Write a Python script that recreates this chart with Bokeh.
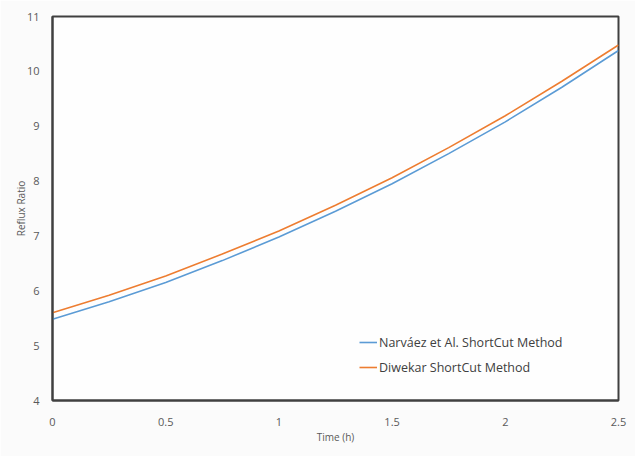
from bokeh.plotting import figure
from bokeh.models import Range1d, FixedTicker, Legend, LegendItem
from bokeh.embed import file_html
from bokeh.resources import INLINE

time_h = [0.0, 0.25, 0.5, 0.75, 1.0, 1.25, 1.5, 1.75, 2.0, 2.25, 2.5]
narvaez = [5.48, 5.80, 6.15, 6.55, 6.98, 7.45, 7.95, 8.50, 9.08, 9.71, 10.38]
diwekar = [5.60, 5.92, 6.27, 6.67, 7.09, 7.56, 8.06, 8.61, 9.19, 9.82, 10.48]
x_ticks = [0, 0.5, 1, 1.5, 2, 2.5]
y_ticks = [4, 5, 6, 7, 8, 9, 10, 11]

FONT = "Open Sans"
GRAY = "#595959"

p = figure(width=635, height=456, output_backend="svg", toolbar_location=None,
           x_range=Range1d(0, 2.5), y_range=Range1d(4, 11),
           min_border_left=52, min_border_right=17, min_border_top=16, min_border_bottom=56)
p.background_fill_color = "#fefefe"
p.border_fill_color = "#fbfbfb"
p.outline_line_color = "#404040"
p.outline_line_width = 2
p.grid.visible = False

for ax in (p.xaxis, p.yaxis):
    ax.axis_line_color = "#404040"
    ax.axis_line_width = 2
    ax.major_tick_line_color = None
    ax.minor_tick_line_color = None
    ax.major_label_text_font = FONT
    ax.major_label_text_font_size = "11px"
    ax.major_label_text_color = GRAY
    ax.axis_label_text_font = FONT
    ax.axis_label_text_font_size = "10px"
    ax.axis_label_text_font_style = "normal"
    ax.axis_label_text_color = GRAY

p.xaxis.ticker = FixedTicker(ticks=x_ticks)
p.yaxis.ticker = FixedTicker(ticks=y_ticks)
p.xaxis.major_label_overrides = {0: "0", 0.5: "0.5", 1: "1", 1.5: "1.5", 2: "2", 2.5: "2.5"}
p.xaxis.major_label_standoff = 11
p.yaxis.major_label_standoff = 7
p.xaxis.axis_label = "Time (h)"
p.yaxis.axis_label = "Reflux Ratio"
p.xaxis.axis_label_standoff = 1
p.yaxis.axis_label_standoff = -4

r1 = p.line(time_h, narvaez, line_color="#5b9bd5", line_width=1.6)
r2 = p.line(time_h, diwekar, line_color="#ed7d31", line_width=1.6)

legend = Legend(items=[LegendItem(label="Narváez et Al. ShortCut Method", renderers=[r1]),
                       LegendItem(label="Diwekar ShortCut Method", renderers=[r2])],
                location=(307, 23))
legend.background_fill_alpha = 0
legend.border_line_color = None
legend.label_text_font = FONT
legend.label_text_font_size = "12.5px"
legend.label_text_color = "#404040"
legend.glyph_width = 18
legend.label_standoff = 2
legend.spacing = 5
legend.padding = 4
p.add_layout(legend, "center")

open("out.html", "w").write(file_html(p, INLINE))
